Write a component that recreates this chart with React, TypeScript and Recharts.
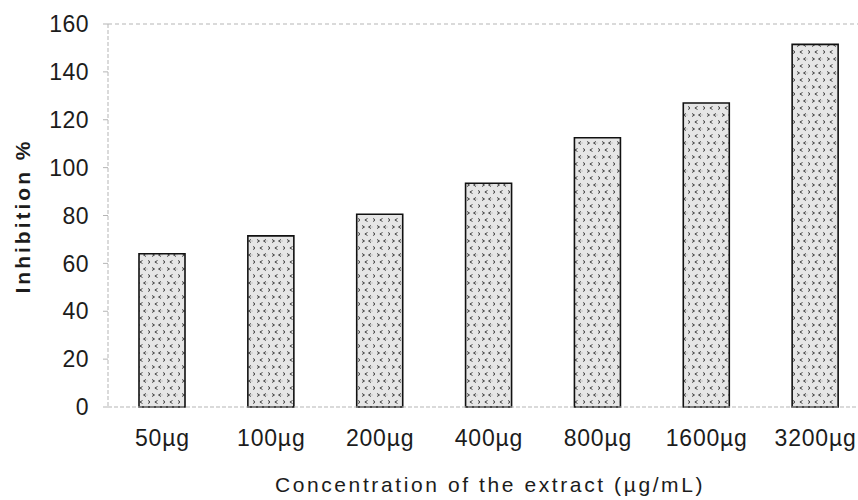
import React from 'react';
import { BarChart, Bar, XAxis, YAxis, ReferenceLine, Label } from 'recharts';

const concentrations = ['50µg', '100µg', '200µg', '400µg', '800µg', '1600µg', '3200µg'];
const inhibition = [64, 71.5, 80.5, 93.5, 112.5, 127, 151.5];
const yTicks = [0, 20, 40, 60, 80, 100, 120, 140, 160];

const data = concentrations.map((c, i) => ({ conc: c, value: inhibition[i] }));

const FONT = '"Liberation Sans", Arial, sans-serif';
const INK = '#1c1c1c';
const AXIS_GREY = '#b5b5b5';

function ChevronPattern() {
  return (
    <pattern id="chevrons" width="15" height="14" patternUnits="userSpaceOnUse">
      <rect width="15" height="14" fill="#e6e6e6" />
      <circle cx="5" cy="10" r="1" fill="#cfcfcf" />
      <circle cx="12" cy="3" r="1" fill="#d3d3d3" />
      <path d="M2 1.5 L4.5 3 L2 4.5" fill="none" stroke="#444" strokeWidth="1" />
      <path d="M11 1.5 L8.5 3 L11 4.5" fill="none" stroke="#444" strokeWidth="1" />
      <path d="M7.5 8.5 L5 10 L7.5 11.5" fill="none" stroke="#444" strokeWidth="1" />
      <path d="M13 8.5 L15.5 10 L13 11.5" fill="none" stroke="#444" strokeWidth="1" />
    </pattern>
  );
}

export default function App() {
  return (
    <div style={{ position: 'absolute', left: 0, top: 0, width: 858, height: 500, overflow: 'hidden', background: '#fff' }}>
      <BarChart width={880} height={500} data={data} margin={{ top: 24, right: 10, bottom: 0, left: 0 }}>
        <defs>
          <ChevronPattern />
        </defs>
        <ReferenceLine y={160} stroke={AXIS_GREY} strokeDasharray="4 3" />
        <XAxis
          dataKey="conc"
          height={93}
          axisLine={{ stroke: AXIS_GREY, strokeDasharray: '4 2' }}
          tickLine={false}
          tickMargin={17}
          tick={{ fontSize: 23, fill: INK, fontFamily: FONT, letterSpacing: 0.8 }}
          interval={0}
        >
          <Label
            content={() => (
              <text x={490} y={492} textAnchor="middle" fontSize={21} fill={INK} fontFamily={FONT} letterSpacing={2.6}>
                Concentration of the extract (µg/mL)
              </text>
            )}
          />
        </XAxis>
        <YAxis
          width={108}
          domain={[0, 160]}
          ticks={yTicks}
          interval={0}
          axisLine={{ stroke: AXIS_GREY, strokeDasharray: '4 2' }}
          tickLine={{ stroke: AXIS_GREY }}
          tickSize={5}
          tickMargin={14}
          tick={{ fontSize: 23, fill: INK, fontFamily: FONT, letterSpacing: 0.5 }}
        >
          <Label
            content={() => (
              <text
                x={30}
                y={216}
                textAnchor="middle"
                fontSize={21}
                fontWeight="bold"
                fill={INK}
                fontFamily={FONT}
                letterSpacing={3}
                transform="rotate(-90, 30, 216)"
              >
                Inhibition %
              </text>
            )}
          />
        </YAxis>
        <Bar dataKey="value" barSize={46} fill="url(#chevrons)" stroke="#111" strokeWidth={1.6} isAnimationActive={false} />
      </BarChart>
    </div>
  );
}
